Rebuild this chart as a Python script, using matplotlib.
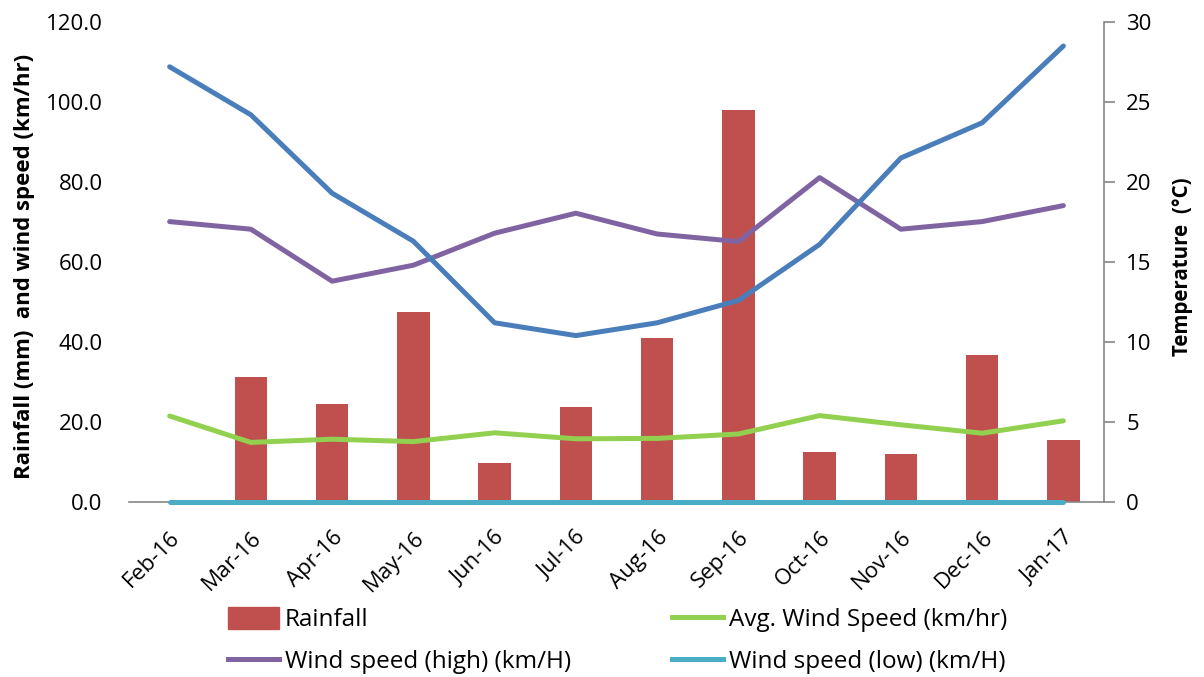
import matplotlib
matplotlib.use("Agg")
import matplotlib.pyplot as plt
import numpy as np
from matplotlib.patches import Patch
from matplotlib.lines import Line2D

months = ["Feb-16", "Mar-16", "Apr-16", "May-16", "Jun-16", "Jul-16",
          "Aug-16", "Sep-16", "Oct-16", "Nov-16", "Dec-16", "Jan-17"]
rainfall = [0.0, 31.2, 24.4, 47.4, 9.8, 23.8, 41.0, 98.0, 12.6, 12.0, 36.8, 15.6]
avg_wind = [21.5, 14.9, 15.7, 15.1, 17.3, 15.8, 15.9, 17.0, 21.6, 19.3, 17.2, 20.3]
wind_high = [70.1, 68.2, 55.2, 59.2, 67.2, 72.2, 67.0, 65.1, 81.1, 68.2, 70.1, 74.1]
wind_low = [0, 0, 0, 0, 0, 0, 0, 0, 0, 0, 0, 0]
temperature = [27.2, 24.2, 19.3, 16.3, 11.2, 10.4, 11.2, 12.6, 16.1, 21.5, 23.7, 28.5]
left_ticks = [0, 20, 40, 60, 80, 100, 120]
right_ticks = [0, 5, 10, 15, 20, 25, 30]

plt.rcParams['font.family'] = ['Open Sans', 'DejaVu Sans']

W, H = 1204, 677
fig = plt.figure(figsize=(W/100, H/100), dpi=100)
ax = fig.add_axes([129/W, 1 - 502/H, (1104-129)/W, (502-22)/H])
ax2 = ax.twinx()

x = np.arange(len(months))
c_bar = "#C0504D"
c_avg = "#92D050"
c_high = "#8064A2"
c_low = "#4BACC6"
c_temp = "#4A7EBB"
lw = 3.6
tfs = 16

ax.bar(x[1:], rainfall[1:], width=0.4, color=c_bar, zorder=1)
ax.plot(x, avg_wind, color=c_avg, lw=lw, solid_capstyle='round', zorder=3)
ax.plot(x, wind_high, color=c_high, lw=lw, solid_capstyle='round', zorder=3)
ax.plot(x, wind_low, color=c_low, lw=lw, solid_capstyle='round', zorder=4, clip_on=False)
ax2.plot(x, temperature, color=c_temp, lw=lw, solid_capstyle='round', zorder=3)

ax.set_xlim(-0.5, 11.5)
ax.set_ylim(0, 120)
ax2.set_ylim(0, 30)
ax.set_yticks(left_ticks)
ax.set_yticklabels([f"{v:.1f}" for v in left_ticks], fontsize=tfs)
ax2.set_yticks(right_ticks)
ax2.set_yticklabels([str(v) for v in right_ticks], fontsize=tfs)
ax.set_xticks(x)
ax.set_xticklabels(months, rotation=45, ha='right', rotation_mode='anchor', fontsize=tfs)

for a in (ax, ax2):
    a.spines['top'].set_visible(False)
    a.spines['left'].set_visible(False)
ax.spines['right'].set_visible(False)
ax2.spines['bottom'].set_visible(False)
ax2.spines['right'].set_color('#868686')
ax2.spines['right'].set_linewidth(1.2)
ax.spines['bottom'].set_color('#868686')
ax.spines['bottom'].set_linewidth(1.2)
ax.tick_params(axis='y', length=0, pad=19)
ax.tick_params(axis='x', length=0, pad=18)
ax2.tick_params(axis='y', length=8, width=1.2, color='#868686', pad=8)

ax.set_ylabel("Rainfall (mm)  and wind speed (km/hr)", fontsize=16, fontweight='bold')
ax.yaxis.set_label_coords(-0.0964, 0.49)
ax2.set_ylabel("Temperature  (°C)", fontsize=14.8, fontweight='bold')
ax2.yaxis.set_label_coords(1.0697, 0.49)

lfs = 17.5
common = dict(frameon=False, fontsize=lfs, handlelength=2.1, handleheight=1.0, handletextpad=0.25,
              labelspacing=0.7, borderpad=0, borderaxespad=0, loc='upper left')
leg1 = fig.legend([Patch(color=c_bar), Line2D([], [], color=c_high, lw=lw)],
                  ["Rainfall", "Wind speed (high) (km/H)"],
                  bbox_to_anchor=(228/W, 1 - 607/H), **common)
leg2 = fig.legend([Line2D([], [], color=c_avg, lw=lw), Line2D([], [], color=c_low, lw=lw)],
                  ["Avg. Wind Speed (km/hr)", "Wind speed (low) (km/H)"],
                  bbox_to_anchor=(672/W, 1 - 607/H), **common)

fig.savefig("out.png", dpi=100)
